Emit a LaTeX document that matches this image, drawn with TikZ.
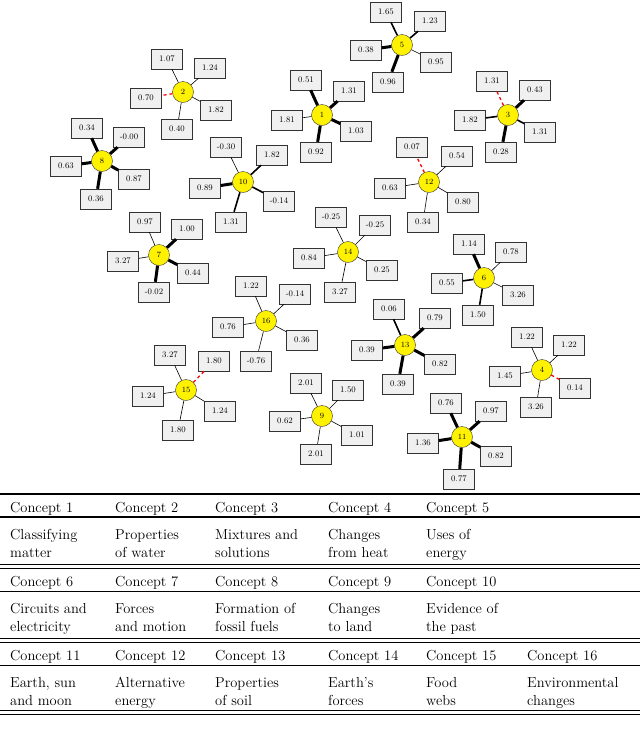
\documentclass[tikz,border=0pt]{standalone}
\begin{document}
\begin{tikzpicture}[x=1pt,y=-1pt,
  box/.style={draw=black!80,fill=black!6,minimum width=31pt,minimum height=20pt,inner sep=0pt,font=\fontsize{8.5}{9}\selectfont},
  ctr/.style={circle,draw=black!80,fill=yellow,minimum size=21pt,inner sep=0pt,font=\fontsize{8}{9}\selectfont},
  t/.style={line width=0.6pt}, m/.style={line width=1.6pt}, k/.style={line width=3pt},
  r/.style={red,dashed,line width=1.3pt},
  cell/.style={anchor=base west,font=\fontsize{14.5}{16}\selectfont,inner sep=0pt}]
\useasboundingbox (0,0) rectangle (640,748);
\newcommand\conc[4]{%
  \node[ctr] (c#1) at (#2) {#1};
  \foreach \xx/\yy/\vv/\ss [count=\ii] in {#4} {
    \node[box] (c#1l\ii) at (\xx,\yy) {\vv};
    \draw[\ss] (c#1) -- (c#1l\ii);
  }}
\conc{2}{183,92}{}{167/59/1.07/t,210/68/1.24/t,146/98/0.70/r,216/110/1.82/t,177/129/0.40/t}
\conc{8}{102,161}{}{87/128/0.34/k,129/137/-0.00/k,66/166/0.63/k,134/179/0.87/k,96/199/0.36/k}
\conc{10}{243,182}{}{226/147/-0.30/t,272/155/1.82/m,205/188/0.89/k,279/201/-0.14/m,231/222/1.31/m}
\conc{1}{322,115}{}{306/80/0.51/k,349/91/1.31/k,287/120/1.81/t,356/131/1.03/k,316/152/0.92/k}
\conc{5}{402,45}{}{386/12/1.65/m,430/21/1.23/m,366/50/0.38/k,436/62/0.95/t,388/82/0.96/k}
\conc{3}{508,115}{}{492/81/1.31/r,535/90/0.43/k,470/120/1.82/m,540/132/1.31/m,501/152/0.28/k}
\conc{12}{429,182}{}{412/147/0.07/r,457/156/0.54/t,390/188/0.63/t,463/202/0.80/t,423/222/0.34/t}
\conc{7}{159,255}{}{145/222/0.97/t,187/229/1.00/k,123/261/3.27/t,193/273/0.44/k,154/292/-0.02/k}
\conc{14}{348,252}{}{331/217/-0.25/t,375/225/-0.25/t,309/258/0.84/t,382/270/0.25/t,340/292/3.27/t}
\conc{16}{266,321}{}{251/286/1.22/t,295/294/-0.14/t,228/327/0.76/t,302/340/0.36/t,256/361/-0.76/t}
\conc{6}{484,278}{}{469/244/1.14/k,511/252/0.78/t,447/283/0.55/m,518/295/3.26/t,478/315/1.50/m}
\conc{13}{405,345}{}{389/309/0.06/m,435/318/0.79/k,367/350/0.39/k,440/364/0.82/k,398/384/0.39/k}
\conc{4}{542,370}{}{527/337/1.22/t,569/345/1.22/t,505/376/1.45/t,575/388/0.14/r,536/407/3.26/t}
\conc{15}{186,390}{}{170/355/3.27/t,214/361/1.80/r,148/396/1.24/t,220/411/1.24/t,178/430/1.80/t}
\conc{9}{322,416}{}{306/383/2.01/t,348/390/1.50/t,285/421/0.62/t,357/435/1.01/t,316/454/2.01/t}
\conc{11}{462,437}{}{446/403/0.76/k,491/411/0.97/k,423/443/1.36/k,496/456/0.82/k,459/479/0.77/k}
\draw[line width=2pt] (0,494) -- (640,494);
\draw[line width=1.2pt] (0,517) -- (640,517);
\draw[line width=1pt] (0,564) -- (640,564); \draw[line width=1pt] (0,568) -- (640,568);
\draw[line width=1pt] (0,591) -- (640,591);
\draw[line width=1pt] (0,638) -- (640,638); \draw[line width=1pt] (0,642) -- (640,642);
\draw[line width=1pt] (0,665) -- (640,665);
\draw[line width=1pt] (0,710) -- (640,710); \draw[line width=1pt] (0,714) -- (640,714);
\foreach \x/\txt [count=\i] in {10/Concept 1,115/Concept 2,215/Concept 3,328/Concept 4,426/Concept 5}
  \node[cell] (h1\i) at (\x,512) {\txt};
\foreach \x/\a/\b [count=\i] in {10/Classifying/matter,115/Properties/of water,215/Mixtures and/solutions,328/Changes/from heat,426/Uses of/energy}
  {\node[cell] (a1\i) at (\x,539) {\a}; \node[cell] (b1\i) at (\x,557) {\b};}
\foreach \x/\txt [count=\i] in {10/Concept 6,115/Concept 7,215/Concept 8,328/Concept 9,426/Concept 10}
  \node[cell] (h2\i) at (\x,586) {\txt};
\foreach \x/\a/\b [count=\i] in {10/Circuits and/electricity,115/Forces/and motion,215/Formation of/fossil fuels,328/Changes/to land,426/Evidence of/the past}
  {\node[cell] (a2\i) at (\x,613) {\a}; \node[cell] (b2\i) at (\x,631) {\b};}
\foreach \x/\txt [count=\i] in {10/Concept 11,115/Concept 12,215/Concept 13,328/Concept 14,426/Concept 15,527/Concept 16}
  \node[cell] (h3\i) at (\x,660) {\txt};
\foreach \x/\a/\b [count=\i] in {10/{Earth, sun}/and moon,115/Alternative/energy,215/Properties/of soil,328/Earth's/forces,426/Food/webs,527/Environmental/changes}
  {\node[cell] (a3\i) at (\x,687) {\a}; \node[cell] (b3\i) at (\x,705) {\b};}
\end{tikzpicture}
\end{document}
